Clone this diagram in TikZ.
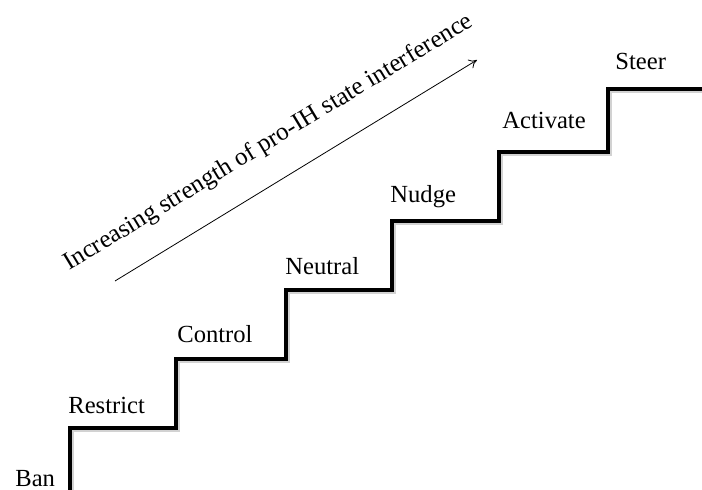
\documentclass[tikz,border=0pt]{standalone}
\usepackage{fontspec}
\setmainfont{Liberation Serif}
\usetikzlibrary{arrows.meta}

\tikzset{
  escalon/.style={line width=1.6pt,line join=miter,black},
  sombra/.style={line width=1.8pt,gray!35},
  etiqueta/.style={anchor=base west,inner sep=0pt,font=\fontsize{12.3}{14}\selectfont},
}

\begin{document}
\begin{tikzpicture}[x=0.5pt,y=-0.5pt]
   \useasboundingbox (0,0) rectangle (702,490);
   %sombra
   \draw[sombra,xshift=1pt,yshift=-1pt] (70,490) -- (70,428) -- (176,428) -- (176,359) -- (286,359) -- (286,290) -- (392,290) -- (392,221) -- (499,221) -- (499,152) -- (608,152) -- (608,89) -- (702,89);
   %escalera
   \draw[escalon] (70,490) -- (70,428) -- (176,428) -- (176,359) -- (286,359) -- (286,290) -- (392,290) -- (392,221) -- (499,221) -- (499,152) -- (608,152) -- (608,89) -- (702,89);
   %etiquetas
   \node[etiqueta] (ban) at (15,487) {Ban};
   \node[etiqueta] (restrict) at (68,414) {Restrict};
   \node[etiqueta] (control) at (177,343) {Control};
   \node[etiqueta] (neutral) at (285,275) {Neutral};
   \node[etiqueta] (nudge) at (390,203) {Nudge};
   \node[etiqueta] (activate) at (502,129) {Activate};
   \node[etiqueta] (steer) at (615,70) {Steer};
   %flecha
   \coordinate (ini) at (115,281);
   \coordinate (fin) at (477,60);
   \draw[line width=0.4pt,-{To[length=4pt,width=5pt]}] (ini) -- (fin);
   \node[etiqueta,rotate=31.2,font=\fontsize{12.6}{14}\selectfont] (titulo) at (69,271) {Increasing strength of pro-IH state interference};
\end{tikzpicture}
\end{document}
